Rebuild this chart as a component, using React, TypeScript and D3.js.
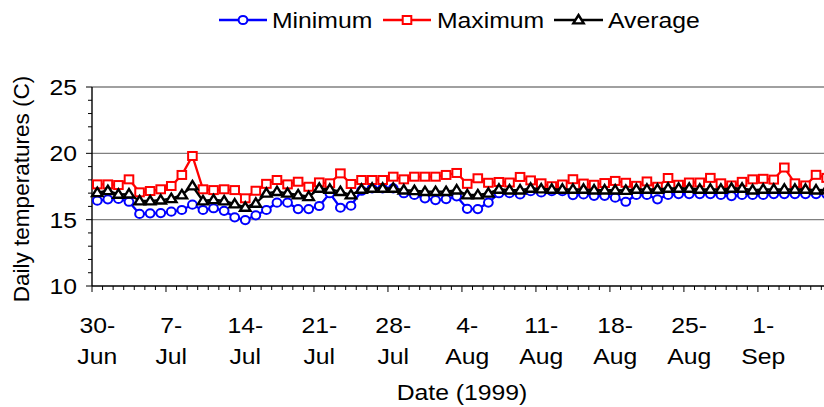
import React, { useEffect, useRef } from "react";
import * as d3 from "d3";

const categories: Date[] = d3.timeDay.range(new Date(1999, 5, 30), new Date(1999, 8, 8));

const minimum = [
  16.43, 16.53, 16.56, 16.35, 15.43, 15.48, 15.50, 15.60, 15.73, 16.13,
  15.73, 15.86, 15.67, 15.18, 14.97, 15.33, 15.73, 16.28, 16.28, 15.80,
  15.80, 16.03, 16.99, 15.90, 16.05, 17.18, 17.36, 17.36, 17.36, 16.99,
  16.86, 16.61, 16.48, 16.55, 16.76, 15.82, 15.80, 16.29, 16.99, 17.00,
  16.90, 17.15, 17.05, 17.15, 17.15, 16.85, 16.90, 16.80, 16.80, 16.66,
  16.35, 16.86, 16.86, 16.53, 16.86, 16.93, 16.93, 16.93, 16.93, 16.86,
  16.78, 16.86, 16.86, 16.86, 16.93, 16.93, 16.93, 16.93, 16.93, 16.93,
];

const maximum = [
  17.66, 17.66, 17.61, 18.04, 17.06, 17.16, 17.29, 17.54, 18.37, 19.80,
  17.29, 17.23, 17.29, 17.23, 16.61, 17.18, 17.70, 17.99, 17.66, 17.86,
  17.48, 17.81, 17.74, 18.49, 17.69, 17.99, 17.99, 17.99, 18.24, 18.04,
  18.24, 18.24, 18.24, 18.37, 18.52, 17.70, 18.12, 17.78, 17.84, 17.80,
  18.22, 17.96, 17.74, 17.52, 17.65, 18.05, 17.72, 17.63, 17.76, 17.92,
  17.78, 17.55, 17.88, 17.48, 18.14, 17.63, 17.80, 17.80, 18.15, 17.74,
  17.58, 17.85, 18.04, 18.08, 18.02, 18.93, 17.74, 17.58, 18.38, 18.15,
];

const average = [
  17.03, 17.18, 16.91, 16.93, 16.41, 16.41, 16.48, 16.58, 16.86, 17.54,
  16.41, 16.50, 16.41, 16.18, 15.93, 16.23, 16.99, 17.11, 16.99, 16.86,
  16.73, 17.36, 17.29, 17.11, 16.86, 17.29, 17.36, 17.36, 17.36, 17.23,
  17.18, 17.11, 17.11, 17.11, 17.23, 16.86, 16.86, 16.99, 17.29, 17.23,
  17.23, 17.36, 17.31, 17.29, 17.29, 17.29, 17.29, 17.23, 17.23, 17.23,
  17.20, 17.29, 17.29, 17.29, 17.36, 17.36, 17.36, 17.29, 17.29, 17.29,
  17.36, 17.36, 17.23, 17.29, 17.29, 17.29, 17.29, 17.29, 17.23, 17.25,
];

const tickTop = ["30-", "7-", "14-", "21-", "28-", "4-", "11-", "18-", "25-", "1-"];
const tickBottom = ["Jun", "Jul", "Jul", "Jul", "Jul", "Aug", "Aug", "Aug", "Aug", "Sep"];
const yTicks = [10, 15, 20, 25];
const seriesNames = ["Minimum", "Maximum", "Average"];

const FONT = "'Liberation Sans', Arial, sans-serif";
const FS = 22.5;
const SX = 1.1;

export default function App() {
  const ref = useRef<SVGSVGElement | null>(null);

  useEffect(() => {
    const svg = d3.select(ref.current);
    svg.selectAll("*").remove();

    const left = 92;
    const step = 10.57;
    const n = categories.length;
    const x = d3
      .scaleBand<number>()
      .domain(d3.range(n))
      .range([left, left + n * step])
      .padding(0);
    const cx = (i: number) => (x(i) as number) + x.bandwidth() / 2;
    const y = d3.scaleLinear().domain([10, 25]).range([286, 87]);

    const txt = (sel: any, px: number, py: number, s: string, anchor = "start", dy = "0") =>
      sel
        .append("text")
        .attr("transform", `translate(${px},${py}) scale(${SX},1)`)
        .attr("dy", dy)
        .attr("text-anchor", anchor)
        .attr("font-family", FONT)
        .attr("font-size", FS)
        .attr("fill", "#000")
        .text(s);

    const g = svg.append("g");
    [15, 20, 25].forEach((v) => {
      g.append("line")
        .attr("x1", left)
        .attr("x2", 824)
        .attr("y1", y(v))
        .attr("y2", y(v))
        .attr("stroke", "#808080")
        .attr("stroke-width", 1.4);
    });

    // y axis
    g.append("line")
      .attr("x1", left)
      .attr("x2", left)
      .attr("y1", y(25))
      .attr("y2", y(10))
      .attr("stroke", "#000")
      .attr("stroke-width", 1.4);
    d3.range(10, 26).forEach((v) => {
      const major = v % 5 === 0;
      g.append("line")
        .attr("x1", left - (major ? 6 : 4))
        .attr("x2", left)
        .attr("y1", y(v))
        .attr("y2", y(v))
        .attr("stroke", "#000")
        .attr("stroke-width", 1);
    });
    yTicks.forEach((v) => txt(g, 77, y(v), String(v), "end", "0.36em"));

    // x axis
    g.append("line")
      .attr("x1", left)
      .attr("x2", 824)
      .attr("y1", y(10))
      .attr("y2", y(10))
      .attr("stroke", "#000")
      .attr("stroke-width", 1.4);
    d3.range(n + 1).forEach((i) => {
      const major = i % 7 === 0;
      const xx = left + i * x.bandwidth();
      g.append("line")
        .attr("x1", xx)
        .attr("x2", xx)
        .attr("y1", y(10))
        .attr("y2", y(10) + (major ? 6 : 4))
        .attr("stroke", "#000")
        .attr("stroke-width", 1);
    });
    tickTop.forEach((t, k) => {
      const xx = cx(k * 7);
      txt(g, xx, 333, t, "middle");
      txt(g, xx, 364, tickBottom[k], "middle");
    });

    txt(g, 462, 400, "Date (1999)", "middle");

    g.append("text")
      .attr("transform", "translate(29,189) rotate(-90)")
      .attr("text-anchor", "middle")
      .attr("font-family", FONT)
      .attr("font-size", FS)
      .text("Daily temperatures (C)");

    const series = [
      { name: seriesNames[0], values: minimum, color: "#0000FF", marker: "circle" },
      { name: seriesNames[1], values: maximum, color: "#FF0000", marker: "square" },
      { name: seriesNames[2], values: average, color: "#000000", marker: "triangle" },
    ];

    const drawMarker = (sel: any, type: string, color: string, px: number, py: number) => {
      if (type === "circle") {
        sel.append("ellipse")
          .attr("cx", px)
          .attr("cy", py)
          .attr("rx", 4.4)
          .attr("ry", 4.1)
          .attr("fill", "#fff")
          .attr("stroke", color)
          .attr("stroke-width", 2);
      } else if (type === "square") {
        sel.append("rect")
          .attr("x", px - 4.3)
          .attr("y", py - 4)
          .attr("width", 8.6)
          .attr("height", 8)
          .attr("fill", "#fff")
          .attr("stroke", color)
          .attr("stroke-width", 2);
      } else {
        sel.append("path")
          .attr("d", `M${px},${py - 5}L${px + 5.2},${py + 3.4}L${px - 5.2},${py + 3.4}Z`)
          .attr("fill", "#fff")
          .attr("stroke", color)
          .attr("stroke-width", 2.4)
          .attr("stroke-linejoin", "miter");
      }
    };

    const line = d3
      .line<number>()
      .x((_, i) => cx(i))
      .y((d) => y(d));

    series.forEach((s) => {
      const sg = svg.append("g");
      sg.append("path")
        .attr("d", line(s.values) as string)
        .attr("fill", "none")
        .attr("stroke", s.color)
        .attr("stroke-width", 2.3);
      s.values.forEach((v, i) => drawMarker(sg, s.marker, s.color, cx(i), y(v)));
    });

    // legend
    const legendItems = [
      { x1: 219, x2: 267, tx: 272 },
      { x1: 383, x2: 431, tx: 437 },
      { x1: 554, x2: 603, tx: 608 },
    ];
    series.forEach((s, k) => {
      const it = legendItems[k];
      const lg = svg.append("g");
      lg.append("line")
        .attr("x1", it.x1)
        .attr("x2", it.x2)
        .attr("y1", 20)
        .attr("y2", 20)
        .attr("stroke", s.color)
        .attr("stroke-width", 2.3);
      drawMarker(lg, s.marker, s.color, (it.x1 + it.x2) / 2, 20);
      txt(lg, it.tx, 28, s.name);
    });
  }, []);

  return (
    <svg
      ref={ref}
      width={824}
      height={407}
      style={{ position: "absolute", left: 0, top: 0, background: "#fff" }}
    />
  );
}
